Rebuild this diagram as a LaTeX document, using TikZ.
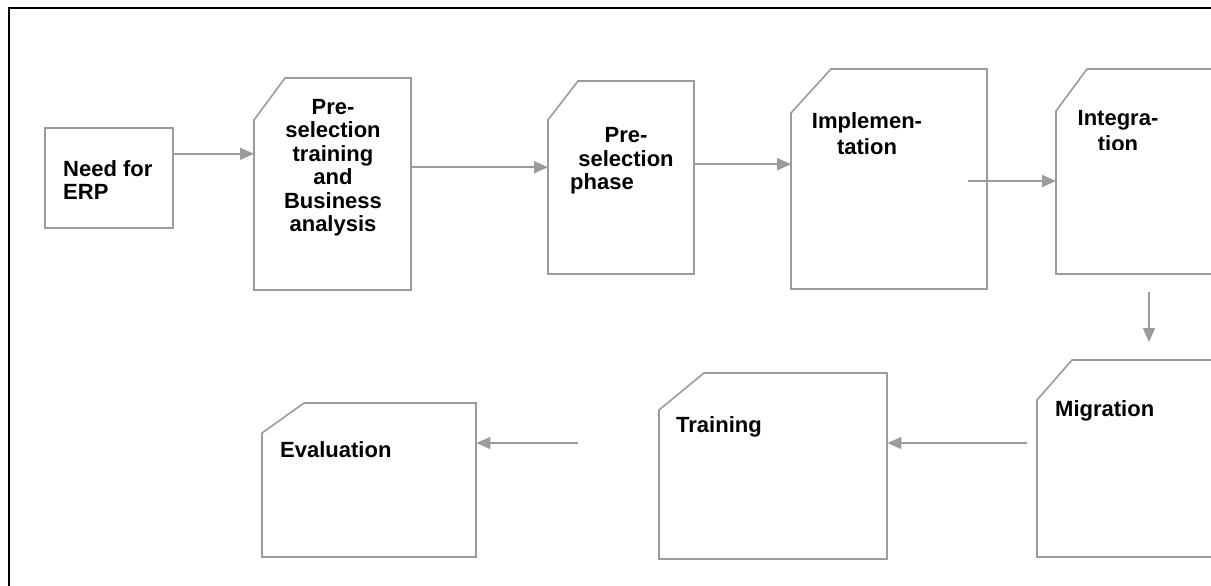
\documentclass[tikz,border=0pt]{standalone}
\usepackage{fontspec}
\setmainfont{Liberation Sans}
\usetikzlibrary{arrows.meta}
\definecolor{boxgray}{RGB}{155,155,155}
\tikzset{
  boxline/.style={draw=boxgray, line width=1.6pt, line join=miter},
  holder/.style={rectangle, draw=none, inner sep=0pt, anchor=north west},
  lbl/.style={inner sep=0pt, font=\fontsize{22}{23.5}\selectfont\bfseries},
  lblwide/.style={inner sep=0pt, font=\fontsize{22}{26}\selectfont\bfseries},
  arr/.style={draw=boxgray, line width=1.6pt, -{Triangle[length=14pt,width=12pt]}},
}
% \snipbox{name}{x1}{y1}{x2}{y2}{cutx}{cuty}  (y grows downward)
\newcommand{\snipbox}[7]{%
  \node[holder, minimum width={(#4-#2)*1pt}, minimum height={(#5-#3)*1pt}] (#1) at (#2,#3) {};
  \draw[boxline] (#2,#5) -- (#2,#3+#7) -- (#2+#6,#3) -- (#4,#3) -- (#4,#5) -- cycle;
}
\begin{document}
\begin{tikzpicture}[x=1pt,y=-1pt]
\useasboundingbox (0,0) rectangle (1211,586);
\clip (0,0) rectangle (1211,586);
\fill[white] (0,0) rectangle (1211,586);
% outer frame (right and bottom sides lie outside the page)
\draw[black, line width=2.4pt] (9,8) rectangle (1240,610);

% boxes
\node[holder, boxline, minimum width=128pt, minimum height=100pt] (erp) at (44,127) {};
\snipbox{pst}{254}{78}{411}{290}{31}{42}
\snipbox{psp}{548}{81}{694}{274}{30}{39}
\snipbox{impl}{791}{69}{987}{289}{40}{44}
\snipbox{integ}{1056}{69}{1228}{274}{31}{42}
\snipbox{mig}{1037}{360}{1228}{557}{35}{40}
\snipbox{train}{659}{373}{887}{559}{45}{37}
\snipbox{eval}{262}{403}{476}{557}{42}{30}

% texts
\node[lbl, align=left, anchor=north west] (terp) at (63,160) {Need for\\ERP};
\node[lbl, align=center, anchor=north] (tpst) at (333,99) {Pre-\\selection\\training\\and\\Business\\analysis};
\node[lbl, anchor=base] (tpsp1) at (626,142) {Pre-};
\node[lbl, anchor=base] (tpsp2) at (626,166) {selection};
\node[lbl, anchor=base west] (tpsp3) at (570,189) {phase};
\node[lblwide, align=center, anchor=north] (timpl) at (867,112) {Implemen-\\tation};
\begin{scope}
  \clip (1060,100) rectangle (1200,149);
  \node[lblwide, align=center, anchor=north] (tinteg) at (1118,110) {Integra-\\tion};
\end{scope}
\node[lbl, anchor=base west] (tmig) at (1055,416) {Migration};
\node[lbl, anchor=base west] (ttrain) at (676,432) {Training};
\node[lbl, anchor=base west] (teval) at (280,457) {Evaluation};

% connectors
\coordinate (c1) at ([yshift=24pt]erp.east);
\draw[arr] (c1) -- (c1 -| pst.west);
\coordinate (c2) at ([yshift=17pt]pst.east);
\draw[arr] (c2) -- (c2 -| psp.west);
\coordinate (c3) at ([yshift=13.5pt]psp.east);
\draw[arr] (c3) -- (c3 -| impl.west);
\coordinate (c4) at (968,181);
\draw[arr] (c4) -- (c4 -| integ.west);
\coordinate (c5s) at (1149,292);
\coordinate (c5e) at (1149,342);
\draw[arr] (c5s) -- (c5e);
\coordinate (c6) at (1027,443);
\draw[arr] (c6) -- (c6 -| train.east);
\coordinate (c7) at (578,443);
\draw[arr] (c7) -- (c7 -| eval.east);
\end{tikzpicture}
\end{document}
